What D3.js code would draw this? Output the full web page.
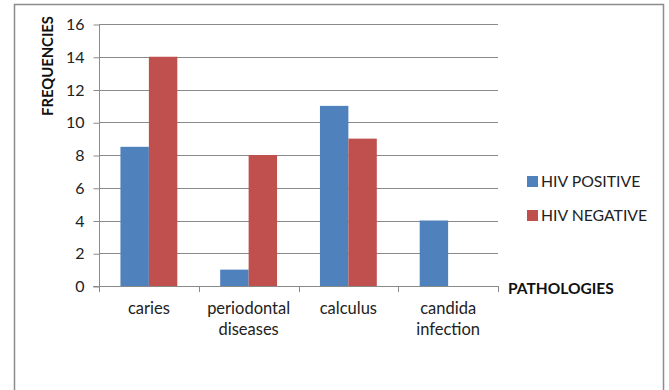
<!DOCTYPE html>
<html>
<head>
<meta charset="utf-8">
<script src="https://cdn.jsdelivr.net/npm/d3@7"></script>
<style>
  body { margin: 0; background: #fff; }
  svg { display: block; font-family: Lato, "Open Sans", sans-serif; }
</style>
</head>
<body>
<svg id="chart" width="669" height="390"></svg>
<script>
const categories = [["caries"], ["periodontal", "diseases"], ["calculus"], ["candida", "infection"]];
const seriesNames = ["HIV POSITIVE", "HIV NEGATIVE"];
const hivPositive = [8.5, 1, 11, 4];
const hivNegative = [14, 8, 9, 0];
const yTicks = [0, 2, 4, 6, 8, 10, 12, 14, 16];
const colors = ["#4F81BD", "#C0504D"];

(function () {
  const svg = d3.select("#chart");

  // outer frame (no bottom edge visible)
  svg.append("path")
    .attr("d", "M14.5,390 V4.5 H663.5 V390")
    .attr("fill", "none")
    .attr("stroke", "#8c8c8c")
    .attr("stroke-width", 1.5);

  const plotLeft = 99, plotRight = 498, plotTop = 24, plotBottom = 286;

  const x = d3.scaleBand().domain(d3.range(categories.length)).range([plotLeft, plotRight]).paddingInner(0.43).paddingOuter(0.215);
  const x1 = d3.scaleBand().domain([0, 1]).range([0, x.bandwidth()]);
  const y = d3.scaleLinear().domain([0, 16]).range([plotBottom, plotTop]);

  // gridlines
  svg.append("g").selectAll("line").data(yTicks.filter(d => d > 0)).join("line")
    .attr("x1", plotLeft).attr("x2", plotRight)
    .attr("y1", d => Math.round(y(d)) + 0.5).attr("y2", d => Math.round(y(d)) + 0.5)
    .attr("stroke", "#8a8a8a").attr("stroke-width", 1);

  // bars
  const data = categories.map((c, i) => [hivPositive[i], hivNegative[i]]);
  svg.append("g").selectAll("g").data(data).join("g")
    .attr("transform", (d, i) => `translate(${x(i)},0)`)
    .selectAll("rect").data(d => d).join("rect")
    .attr("x", (d, j) => x1(j))
    .attr("width", x1.bandwidth())
    .attr("y", d => y(d))
    .attr("height", d => plotBottom - y(d))
    .attr("fill", (d, j) => colors[j]);

  // y axis
  const yAxis = svg.append("g")
    .attr("transform", `translate(${plotLeft + 0.5},0.5)`)
    .call(d3.axisLeft(y).tickValues(yTicks).tickSize(6).tickPadding(9));
  yAxis.select(".domain").attr("stroke", "#8a8a8a").attr("d", `M0,${plotTop}V${plotBottom}`);
  yAxis.selectAll(".tick line").attr("stroke", "#8a8a8a");
  yAxis.selectAll(".tick text").attr("font-size", 16).attr("fill", "#222").attr("font-family", "Lato, sans-serif");

  // x axis line and category separator ticks
  const xg = svg.append("g");
  xg.append("line").attr("x1", plotLeft - 6).attr("x2", plotRight).attr("y1", plotBottom + 0.5).attr("y2", plotBottom + 0.5).attr("stroke", "#8a8a8a");
  const seps = d3.range(categories.length + 1).map(i => plotLeft + i * x.step());
  xg.selectAll(".sep").data(seps).join("line")
    .attr("x1", d => Math.round(d) + 0.5).attr("x2", d => Math.round(d) + 0.5)
    .attr("y1", plotBottom).attr("y2", plotBottom + 6)
    .attr("stroke", "#8a8a8a");

  // category labels
  svg.append("g").selectAll("text").data(categories).join("text")
    .attr("x", (d, i) => x(i) + x.bandwidth() / 2)
    .attr("y", 314)
    .attr("text-anchor", "middle")
    .attr("font-size", 16.5)
    .attr("fill", "#222")
    .selectAll("tspan").data(d => d).join("tspan")
    .attr("x", function () { return this.parentNode.getAttribute("x"); })
    .attr("dy", (d, k) => k === 0 ? 0 : 21)
    .text(d => d);

  // axis titles
  svg.append("text")
    .attr("transform", "translate(53,66) rotate(-90)")
    .attr("text-anchor", "middle")
    .attr("font-size", 14.8)
    .attr("font-weight", "bold")
    .attr("fill", "#111")
    .text("FREQUENCIES");

  svg.append("text")
    .attr("x", 508).attr("y", 294)
    .attr("font-size", 15.5)
    .attr("font-weight", "bold")
    .attr("fill", "#111")
    .text("PATHOLOGIES");

  // legend
  const legend = svg.append("g").selectAll("g").data(seriesNames).join("g")
    .attr("transform", (d, i) => `translate(527,${176 + i * 34})`);
  legend.append("rect").attr("width", 11).attr("height", 11).attr("fill", (d, i) => colors[i]);
  legend.append("text").attr("x", 14).attr("y", 11)
    .attr("font-size", 15.8).attr("fill", "#222")
    .text(d => d);
})();
</script>
</body>
</html>
